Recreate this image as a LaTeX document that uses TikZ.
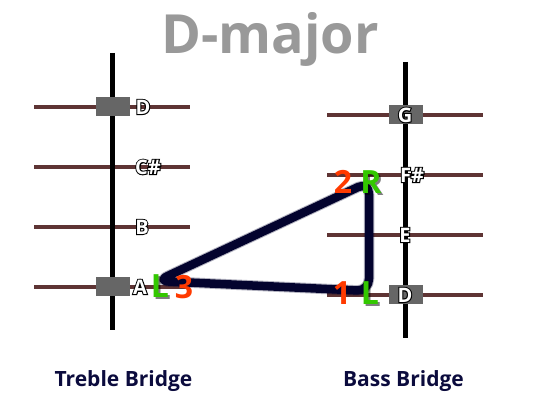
\documentclass[tikz,border=0pt]{standalone}
\usepackage{fontspec}
\setmainfont{Open Sans}
\newfontface\notehalo{Open Sans Bold}[FakeBold=10]

\definecolor{stringbrown}{HTML}{5E3434}
\definecolor{nutgray}{HTML}{666666}
\definecolor{titlegray}{HTML}{999999}
\definecolor{chordnavy}{HTML}{03032E}
\definecolor{fingergreen}{HTML}{33C800}
\definecolor{fingerred}{HTML}{FF3A00}
\definecolor{labelnavy}{HTML}{0B0B3D}

\tikzset{
    gutstring/.style={stringbrown, line width=4pt},
    bridge/.style={black, line width=5pt},
    nut/.style={fill=nutgray, draw=none, minimum width=34pt, minimum height=19pt, inner sep=0pt},
    notebase/.style={inner sep=0pt},
    note/.style={notebase, font=\bfseries\fontsize{20}{20}\selectfont, text=white},
    noteedge/.style={notebase, font=\notehalo\fontsize{20}{20}\selectfont, text=black},
    finger/.style={font=\bfseries\fontsize{32}{32}\selectfont, text=fingergreen, inner sep=0pt},
    fshadow/.style={font=\bfseries\fontsize{32}{32}\selectfont, text=black, opacity=0.5, inner sep=0pt, xshift=2pt, yshift=-2pt},
    fingernum/.style={font=\bfseries\fontsize{32}{32}\selectfont, text=fingerred, inner sep=0pt},
    chord/.style={chordnavy, line width=8.5pt, rounded corners=12pt, line join=round, line cap=round},
    bridgelabel/.style={font=\bfseries\fontsize{21}{21}\selectfont, text=labelnavy, anchor=base},
}

\begin{document}
\begin{tikzpicture}[x=1pt, y=-1pt]
    \useasboundingbox (0,0) rectangle (539,414);

    % Title
    \node[font=\bfseries\fontsize{54}{54}\selectfont, text=titlegray, anchor=base] (title) at (270,54) {D-major};

    % Treble bridge strings
    \draw[gutstring] (34,107) -- (190,107);
    \draw[gutstring] (34,167) -- (190,167);
    \draw[gutstring] (34,227) -- (190,227);
    \draw[gutstring] (34,287) -- (190,287);
    \draw[bridge] (112,53) -- (112,330);
    \node[nut] (nutD) at (113,107) {};
    \node[nut] (nutA) at (113,287) {};

    % Bass bridge strings
    \draw[gutstring] (327,115) -- (483,115);
    \draw[gutstring] (327,175) -- (483,175);
    \draw[gutstring] (327,235) -- (483,235);
    \draw[gutstring] (327,295) -- (483,295);
    \draw[bridge] (405,62) -- (405,338);
    \node[nut] (nutG) at (406,115) {};
    \node[nut] (nutDlow) at (406,295) {};

    % Note names (black edge under white letters)
    \node[noteedge] (etD) at (143,107) {D};
    \node[note] (tD) at (etD) {D};
    \node[noteedge] (etCs) at (148,167) {C\#};
    \node[note] (tCs) at (etCs) {C\#};
    \node[noteedge] (etB) at (142,227) {B};
    \node[note] (tB) at (etB) {B};
    \node[noteedge] (etA) at (140,287) {A};
    \node[note] (tA) at (etA) {A};
    \node[noteedge] (ebG) at (405,115) {G};
    \node[note] (bG) at (ebG) {G};
    \node[noteedge] (ebFs) at (412,175) {F\#};
    \node[note] (bFs) at (ebFs) {F\#};
    \node[noteedge] (ebE) at (405,235) {E};
    \node[note] (bE) at (ebE) {E};
    \node[noteedge] (ebD) at (405,295) {D};
    \node[note] (bD) at (ebD) {D};

    % Chord shape
    \coordinate (c3) at (157,281);
    \coordinate (c2) at (369,182);
    \coordinate (c1) at (369,291);
    \draw[chord, line width=10.5pt, opacity=0.3] (c3) -- (c2) -- (c1) -- cycle;
    \draw[chord] (c3) -- (c2) -- (c1) -- cycle;

    % Fingers
    \node[fshadow] (sL3) at (160,286) {L};
    \node[finger] (fL3) at (160,286) {L};
    \node[fingernum] (n3) at (184,287) {3};
    \node[fshadow] (sR2) at (371,182) {R};
    \node[finger] (fR2) at (371,182) {R};
    \node[fingernum] (n2) at (343,182) {2};
    \node[fshadow] (sL1) at (370,293) {L};
    \node[finger] (fL1) at (370,293) {L};
    \node[fingernum] (n1) at (342,293) {1};

    % Bridge names
    \node[bridgelabel] (treble) at (123.5,387) {Treble Bridge};
    \node[bridgelabel] (bass) at (403.5,387) {Bass Bridge};
\end{tikzpicture}
\end{document}
